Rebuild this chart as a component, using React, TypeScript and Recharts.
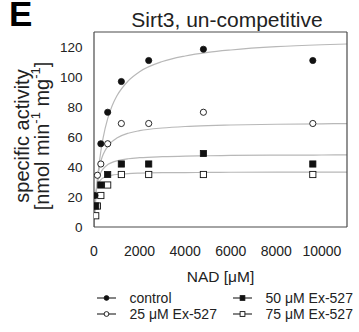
import React from 'react';
import { ComposedChart, Line, Scatter, XAxis, YAxis, Legend, Label } from 'recharts';

// ---- data ----
const controlX = [40, 300, 600, 1200, 2400, 4800, 9600];
const controlY = [21, 55.5, 76.5, 97, 111, 118.5, 111];
const ex25X = [150, 300, 600, 1200, 2400, 4800, 9600];
const ex25Y = [34.5, 42, 55.5, 69, 69, 76.5, 69];
const ex50X = [75, 300, 600, 1200, 2400, 4800, 9600];
const ex50Y = [14, 28, 35, 42, 42, 49, 42];
const ex75X = [75, 150, 300, 600, 1200, 2400, 4800, 9600];
const ex75Y = [7.5, 14, 21, 28, 35, 35, 35, 35];

// fitted curves
const curveX = [0, 25, 50, 100, 150, 200, 300, 400, 600, 800, 1000, 1500, 2000, 3000, 4000, 5000, 6000, 8000, 10000, 11100];
const fitControl = [0, 6.6, 12.6, 22.9, 31.5, 38.8, 50.5, 59.4, 72.2, 81.0, 87.3, 97.4, 103.5, 110.3, 114.0, 116.4, 118.0, 120.2, 121.5, 122.0];
const fit25 = [0, 8.5, 15.2, 25.0, 31.8, 36.8, 43.8, 48.3, 53.8, 57.1, 59.3, 62.5, 64.2, 66.0, 67.0, 67.6, 68.0, 68.5, 68.8, 68.9];
const fit50 = [0, 9.7, 16.2, 24.3, 29.1, 32.3, 36.4, 38.8, 41.6, 43.1, 44.1, 45.5, 46.2, 46.9, 47.3, 47.5, 47.7, 47.9, 48.0, 48.1];
const fit75 = [0, 12.3, 18.4, 24.5, 27.6, 29.4, 31.5, 32.7, 34.0, 34.6, 35.0, 35.6, 35.9, 36.2, 36.3, 36.4, 36.5, 36.6, 36.6, 36.6];

const xMajorTicks = [0, 2000, 4000, 6000, 8000, 10000];
const xMinorTicks = [1000, 3000, 5000, 7000, 9000, 11000];
const yMajorTicks = [0, 20, 40, 60, 80, 100, 120];
const yMinorTicks = [10, 30, 50, 70, 90, 110, 130];

const seriesNames = ['control', '25 μM Ex-527', '50 μM Ex-527', '75 μM Ex-527'];
const titleText = 'Sirt3, un-competitive';
const panelLetter = 'E';

const zip = (xs: number[], ys: number[]) => xs.map((x, i) => ({ x, y: ys[i] }));

const FONT = '"Liberation Sans", Arial, Helvetica, sans-serif';
const INK = '#111';
const FRAME = '#4a4a4a';
const CURVE = '#b8b8b8';

const markerFor = (kind: string, cx: number, cy: number, s: number) => {
  switch (kind) {
    case 'control':
      return <circle cx={cx} cy={cy} r={s} fill={INK} stroke={INK} strokeWidth={0.8} />;
    case '25':
      return <circle cx={cx} cy={cy} r={s} fill="#fff" stroke={INK} strokeWidth={0.9} />;
    case '50':
      return <rect x={cx - s} y={cy - s} width={2 * s} height={2 * s} fill={INK} stroke={INK} strokeWidth={0.8} />;
    default:
      return <rect x={cx - s} y={cy - s} width={2 * s} height={2 * s} fill="#fff" stroke={INK} strokeWidth={0.9} />;
  }
};

const shapeFor = (kind: string) => (p: any) => markerFor(kind, p.cx, p.cy, 3.1);

const YTitle = (props: any) => {
  const vb = props.viewBox || { x: 0, y: 32, width: 94, height: 195 };
  const cy = vb.y + vb.height / 2 + 6.5;
  const x1 = vb.x + 22;
  const x2 = vb.x + 42;
  return (
    <g fontFamily={FONT} fill="#222">
      <text transform={`translate(${x1},${cy}) rotate(-90)`} textAnchor="middle" dominantBaseline="central" fontSize={20}>
        specific activity
      </text>
      <text transform={`translate(${x2},${cy}) rotate(-90)`} textAnchor="middle" dominantBaseline="central" fontSize={20}>
        [nmol min<tspan dy={-7} fontSize={13}>-1</tspan>
        <tspan dy={7}> mg</tspan>
        <tspan dy={-7} fontSize={13}>-1</tspan>
        <tspan dy={7}>]</tspan>
      </text>
    </g>
  );
};

const legendOrder = [
  { name: seriesNames[0], kind: 'control' },
  { name: seriesNames[2], kind: '50' },
  { name: seriesNames[1], kind: '25' },
  { name: seriesNames[3], kind: '75' },
];

const LegendContent = () => (
  <div
    style={{
      display: 'grid',
      gridTemplateColumns: '136px 130px',
      rowGap: 0,
      fontFamily: FONT,
      fontSize: 14,
      color: '#222',
    }}
  >
    {legendOrder.map((it) => (
      <div key={it.name} style={{ display: 'flex', alignItems: 'center', height: 16, whiteSpace: 'nowrap' }}>
        <svg width={19} height={10} style={{ marginRight: 14, overflow: 'visible' }}>
          <line x1={0} y1={5} x2={19} y2={5} stroke="#333" strokeWidth={1.2} />
          {markerFor(it.kind, 9.5, 5, 2.4)}
        </svg>
        <span>{it.name}</span>
      </div>
    ))}
  </div>
);

export default function App() {
  const axisStroke = { stroke: FRAME, strokeWidth: 1.2 };
  return (
    <div style={{ position: 'absolute', left: 0, top: 0, width: 359, height: 332, background: '#fff' }}>
      <ComposedChart width={359} height={332} margin={{ top: 32, right: 12, bottom: 0, left: 0 }}>
        {/* label axes */}
        <XAxis
          xAxisId="x"
          dataKey="x"
          type="number"
          domain={[0, 11100]}
          allowDataOverflow
          ticks={xMajorTicks}
          tickLine={false}
          axisLine={false}
          tickSize={6}
          tickMargin={13}
          height={105}
          interval={0}
          tick={{ fontSize: 14, fontFamily: FONT, fill: '#222' }}
        >
          <Label value="NAD [μM]" position="insideBottom" offset={50} style={{ fontSize: 15.5, fontFamily: FONT, fill: '#222' }} />
        </XAxis>
        <YAxis
          yAxisId="y"
          dataKey="y"
          type="number"
          domain={[0, 130]}
          allowDataOverflow
          ticks={yMajorTicks}
          tickLine={false}
          axisLine={false}
          tickSize={6}
          tickMargin={5.5}
          width={94}
          interval={0}
          tick={{ fontSize: 13.5, fontFamily: FONT, fill: '#222' }}
        >
          <Label content={(p: any) => <YTitle {...p} />} />
        </YAxis>

        {/* frame with inward ticks */}
        <XAxis xAxisId="bMaj" orientation="bottom" mirror type="number" domain={[0, 11100]} allowDataOverflow ticks={xMajorTicks} interval={0} tick={false} tickSize={6} axisLine={axisStroke} tickLine={axisStroke} />
        <XAxis xAxisId="bMin" orientation="bottom" mirror type="number" domain={[0, 11100]} allowDataOverflow ticks={xMinorTicks} interval={0} tick={false} tickSize={4} axisLine={false} tickLine={axisStroke} />
        <XAxis xAxisId="tMaj" orientation="top" mirror type="number" domain={[0, 11100]} allowDataOverflow ticks={xMajorTicks} interval={0} tick={false} tickSize={6} axisLine={axisStroke} tickLine={axisStroke} />
        <XAxis xAxisId="tMin" orientation="top" mirror type="number" domain={[0, 11100]} allowDataOverflow ticks={xMinorTicks} interval={0} tick={false} tickSize={4} axisLine={false} tickLine={axisStroke} />
        <YAxis yAxisId="lMaj" orientation="left" mirror type="number" domain={[0, 130]} allowDataOverflow ticks={yMajorTicks} interval={0} tick={false} tickSize={6} axisLine={axisStroke} tickLine={axisStroke} />
        <YAxis yAxisId="lMin" orientation="left" mirror type="number" domain={[0, 130]} allowDataOverflow ticks={yMinorTicks} interval={0} tick={false} tickSize={3.5} axisLine={false} tickLine={axisStroke} />
        <YAxis yAxisId="rMaj" orientation="right" mirror type="number" domain={[0, 130]} allowDataOverflow ticks={yMajorTicks} interval={0} tick={false} tickSize={6} axisLine={axisStroke} tickLine={axisStroke} />
        <YAxis yAxisId="rMin" orientation="right" mirror type="number" domain={[0, 130]} allowDataOverflow ticks={yMinorTicks} interval={0} tick={false} tickSize={3.5} axisLine={false} tickLine={axisStroke} />

        {/* fitted curves */}
        <Line xAxisId="x" yAxisId="y" data={zip(curveX, fitControl)} dataKey="y" type="monotoneX" stroke={CURVE} strokeWidth={1.2} dot={false} activeDot={false} isAnimationActive={false} legendType="none" />
        <Line xAxisId="x" yAxisId="y" data={zip(curveX, fit25)} dataKey="y" type="monotoneX" stroke={CURVE} strokeWidth={1.2} dot={false} activeDot={false} isAnimationActive={false} legendType="none" />
        <Line xAxisId="x" yAxisId="y" data={zip(curveX, fit50)} dataKey="y" type="monotoneX" stroke={CURVE} strokeWidth={1.2} dot={false} activeDot={false} isAnimationActive={false} legendType="none" />
        <Line xAxisId="x" yAxisId="y" data={zip(curveX, fit75)} dataKey="y" type="monotoneX" stroke={CURVE} strokeWidth={1.2} dot={false} activeDot={false} isAnimationActive={false} legendType="none" />

        {/* measured points */}
        <Scatter xAxisId="x" yAxisId="y" name={seriesNames[3]} data={zip(ex75X, ex75Y)} dataKey="y" shape={shapeFor('75')} isAnimationActive={false} />
        <Scatter xAxisId="x" yAxisId="y" name={seriesNames[2]} data={zip(ex50X, ex50Y)} dataKey="y" shape={shapeFor('50')} isAnimationActive={false} />
        <Scatter xAxisId="x" yAxisId="y" name={seriesNames[1]} data={zip(ex25X, ex25Y)} dataKey="y" shape={shapeFor('25')} isAnimationActive={false} />
        <Scatter xAxisId="x" yAxisId="y" name={seriesNames[0]} data={zip(controlX, controlY)} dataKey="y" shape={shapeFor('control')} isAnimationActive={false} />

        <Legend
          layout="horizontal"
          verticalAlign="middle"
          align="center"
          content={() => <LegendContent />}
          wrapperStyle={{ position: 'absolute', left: 96.5, top: 290, width: 263, height: 32 }}
        />
      </ComposedChart>
      <svg width={359} height={332} style={{ position: 'absolute', left: 0, top: 0, pointerEvents: 'none' }}>
        <text x={9} y={26} fontFamily={FONT} fontWeight="bold" fontSize={35} fill="#000">{panelLetter}</text>
        <text x={227} y={26.5} textAnchor="middle" fontFamily={FONT} fontSize={21} fill="#222">{titleText}</text>
      </svg>
    </div>
  );
}
